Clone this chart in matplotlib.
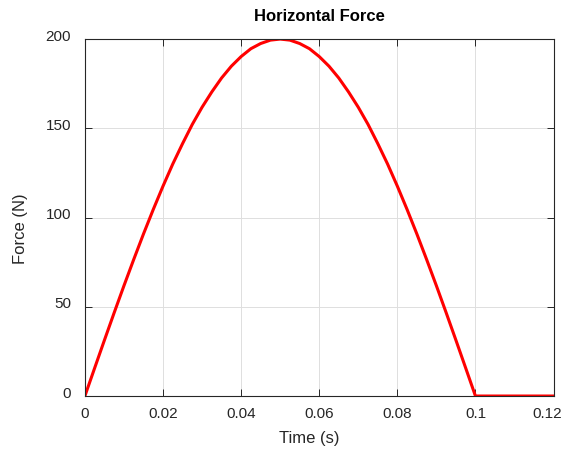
import matplotlib
matplotlib.use("Agg")
import matplotlib.pyplot as plt
from matplotlib.transforms import ScaledTranslation

plt.rcParams['font.family'] = ['Liberation Sans', 'DejaVu Sans']

# time (s) and force (N)
time_s = [0, 0.0025, 0.005, 0.0075, 0.01, 0.0125, 0.015, 0.0175, 0.02, 0.0225,
          0.025, 0.0275, 0.03, 0.0325, 0.035, 0.0375, 0.04, 0.0425, 0.045, 0.0475,
          0.05, 0.0525, 0.055, 0.0575, 0.06, 0.0625, 0.065, 0.0675, 0.07, 0.0725,
          0.075, 0.0775, 0.08, 0.0825, 0.085, 0.0875, 0.09, 0.0925, 0.095, 0.0975,
          0.1, 0.12]
force_n = [0, 15.7, 31.3, 46.7, 61.8, 76.5, 90.8, 104.5, 117.6, 130, 141.4,
           152.2, 161.8, 170.4, 178.2, 184.8, 190.2, 194.6, 197.5, 199.4, 200,
           199.4, 197.5, 194.6, 190.2, 184.8, 178.2, 170.4, 161.8, 152.2, 141.4,
           130, 117.6, 104.5, 90.8, 76.5, 61.8, 46.7, 31.3, 15.7, 0, 0]
xticks = [0, 0.02, 0.04, 0.06, 0.08, 0.1, 0.12]
xticklabels = ['0', '0.02', '0.04', '0.06', '0.08', '0.1', '0.12']
yticks = [0, 50, 100, 150, 200]

fig = plt.figure(figsize=(5.66, 4.49), dpi=100)
ax = fig.add_axes([0.150, 0.118, 0.828, 0.795])

ax.plot(time_s, force_n, color='red', linewidth=2.2)
ax.set_xlim(0, 0.12)
ax.set_ylim(0, 200)
ax.set_xticks(xticks)
ax.set_xticklabels(xticklabels)
ax.set_yticks(yticks)
ax.grid(True, color='#dedede', linewidth=0.7)
ax.tick_params(direction='in', top=True, right=True, labelsize=11,
               colors='#262626', length=5, width=0.7)
ax.tick_params(axis='x', pad=8)
ax.tick_params(axis='y', pad=10)
# matlab puts y labels a touch above the tick
for lab in ax.get_yticklabels():
    lab.set_transform(lab.get_transform() + ScaledTranslation(0, 4/100, fig.dpi_scale_trans))
# last x label sits a bit left of its tick so it stays inside
last = ax.get_xticklabels()[-1]
last.set_transform(last.get_transform() + ScaledTranslation(-6/100, 0, fig.dpi_scale_trans))
for s in ax.spines.values():
    s.set_color('#262626')
    s.set_linewidth(0.8)
ax.set_xlabel('Time (s)', fontsize=12, color='#262626', va='center', ha='center')
ax.set_ylabel('Force (N)', fontsize=12, color='#262626', va='center', ha='center')
ax.xaxis.set_label_coords(0.479, -0.118)
ax.yaxis.set_label_coords(-0.138, 0.47)
ax.set_title('Horizontal Force', fontsize=12, fontweight='bold', pad=13)

fig.savefig('out.png', dpi=100)
